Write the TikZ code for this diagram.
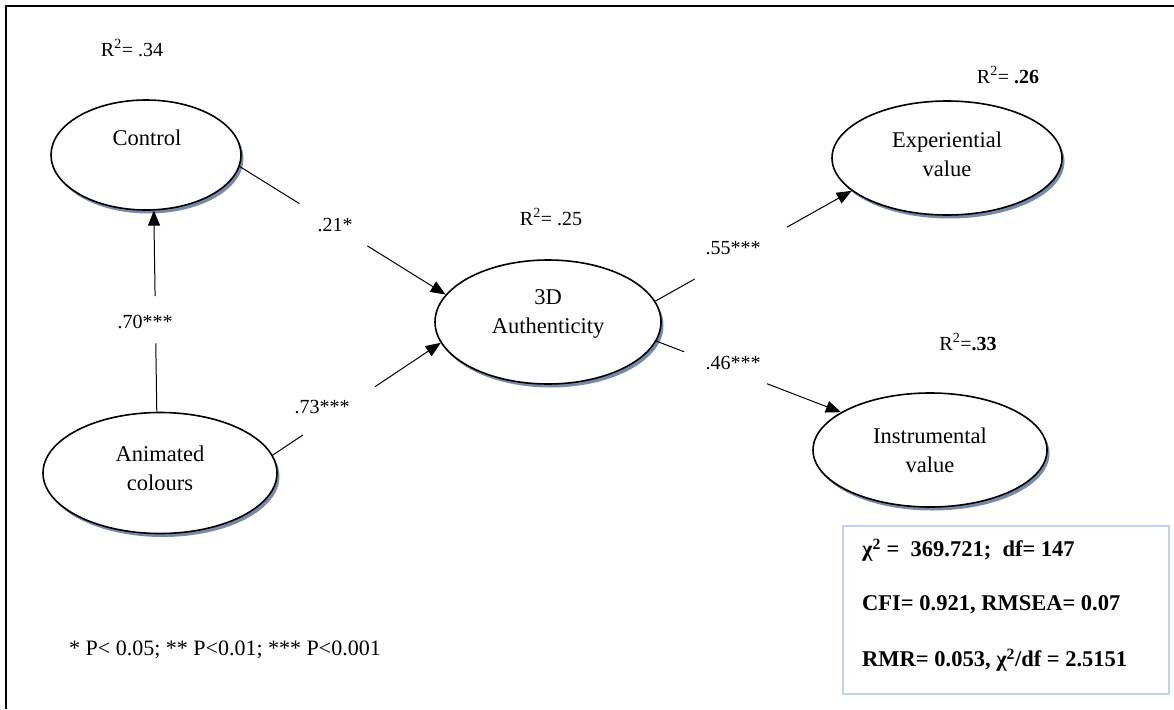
\documentclass[tikz,border=0pt]{standalone}
\usepackage{fontspec}
\setmainfont{Liberation Serif}
\usetikzlibrary{shapes.geometric,arrows.meta,shadows}
\definecolor{shadowc}{RGB}{120,138,165}
\definecolor{boxc}{RGB}{190,210,236}
\begin{document}
\begin{tikzpicture}[x=1pt,y=-1pt,
  latent/.style={ellipse, draw, line width=1.6pt, fill=white, inner sep=0pt,
    drop shadow={shadow xshift=2.5pt, shadow yshift=-3.5pt, fill=shadowc, opacity=1}},
  ntext/.style={font=\fontsize{22.5}{29}\selectfont, align=center, inner sep=0pt},
  plab/.style={font=\fontsize{20}{24}\selectfont, inner sep=0pt},
  btext/.style={font=\fontsize{22.5}{27}\selectfont\bfseries, inner sep=0pt, anchor=west},
  conn/.style={line width=1pt},
  arr/.style={line width=1pt, -{Triangle[length=15pt,width=12pt]}},
]
\useasboundingbox (0,0) rectangle (1174,709);
% frame
\draw[line width=2pt] (6,709) -- (6,6) -- (1174,6);

% latent variables
\node[latent, minimum width=190pt, minimum height=110pt] (ctrl) at (146,155) {};
\node[ntext] (ctrlT) at (147,138) {Control};
\node[latent, minimum width=234pt, minimum height=121pt] (anim) at (160,473) {};
\node[ntext] (animT) at (160,468) {Animated\\colours};
\node[latent, minimum width=226pt, minimum height=124pt] (auth) at (548,322) {};
\node[ntext] (authT) at (548,314) {3D\\Authenticity};
\node[latent, minimum width=230pt, minimum height=114pt] (exp) at (947,158) {};
\node[ntext] (expT) at (947,154) {Experiential\\value};
\node[latent, minimum width=234pt, minimum height=114pt] (ins) at (930,450) {};
\node[ntext] (insT) at (930,450) {Instrumental\\value};

% connectors
\path (ctrl.-7) -- (auth.165) coordinate[pos=0.29] (a1) coordinate[pos=0.62] (a2);
\draw[conn] (ctrl.-7) -- (a1);
\draw[arr] (a2) -- (auth.165);

\path (anim.93) -- (ctrl.-82) coordinate[pos=0.34] (b1) coordinate[pos=0.575] (b2);
\draw[conn] (anim.93) -- (b1);
\draw[arr] (b2) -- (ctrl.-82);

\path (anim.9) -- (auth.-169) coordinate[pos=0.18] (c1) coordinate[pos=0.61] (c2);
\draw[conn] (anim.9) -- (c1);
\draw[arr] (c2) -- (auth.-169);

\path (auth.11) -- (exp.-161) coordinate[pos=0.2] (d1) coordinate[pos=0.67] (d2);
\draw[conn] (auth.11) -- (d1);
\draw[arr] (d2) -- (exp.-161);

\path (auth.-10.6) -- (ins.157) coordinate[pos=0.15] (e1) coordinate[pos=0.6] (e2);
\draw[conn] (auth.-10.6) -- (e1);
\draw[arr] (e2) -- (ins.157);

% path labels
\node[plab] (l21) at (335,225) {.21*};
\node[plab] (l70) at (145,322) {.70***};
\node[plab] (l73) at (322,407) {.73***};
\node[plab] (l55) at (733,248) {.55***};
\node[plab] (l46) at (733,363) {.46***};

% R2 labels
\node[plab] (r34) at (132,48) {R\textsuperscript{2}= .34};
\node[plab] (r25) at (551,217) {R\textsuperscript{2}= .25};
\node[plab] (r26) at (1008,75) {R\textsuperscript{2}= \textbf{.26}};
\node[plab] (r33) at (968,342) {R\textsuperscript{2}=\textbf{.33}};

% footnote
\node[ntext, font=\fontsize{22}{26}\selectfont] (foot) at (225,650) {* P< 0.05; ** P<0.01; *** P<0.001};

% fit box
\node[draw=boxc, line width=1.2pt, minimum width=326pt, minimum height=168pt, inner sep=0pt] (fit) at (1006,610) {};
\node[btext] (f1) at (862,550) {χ\textsuperscript{2} =\ \ 369.721;\ \ df= 147};
\node[btext] (f2) at (862,605) {CFI= 0.921, RMSEA= 0.07};
\node[btext] (f3) at (862,660) {RMR= 0.053, χ\textsuperscript{2}/df = 2.5151};
\end{tikzpicture}
\end{document}
